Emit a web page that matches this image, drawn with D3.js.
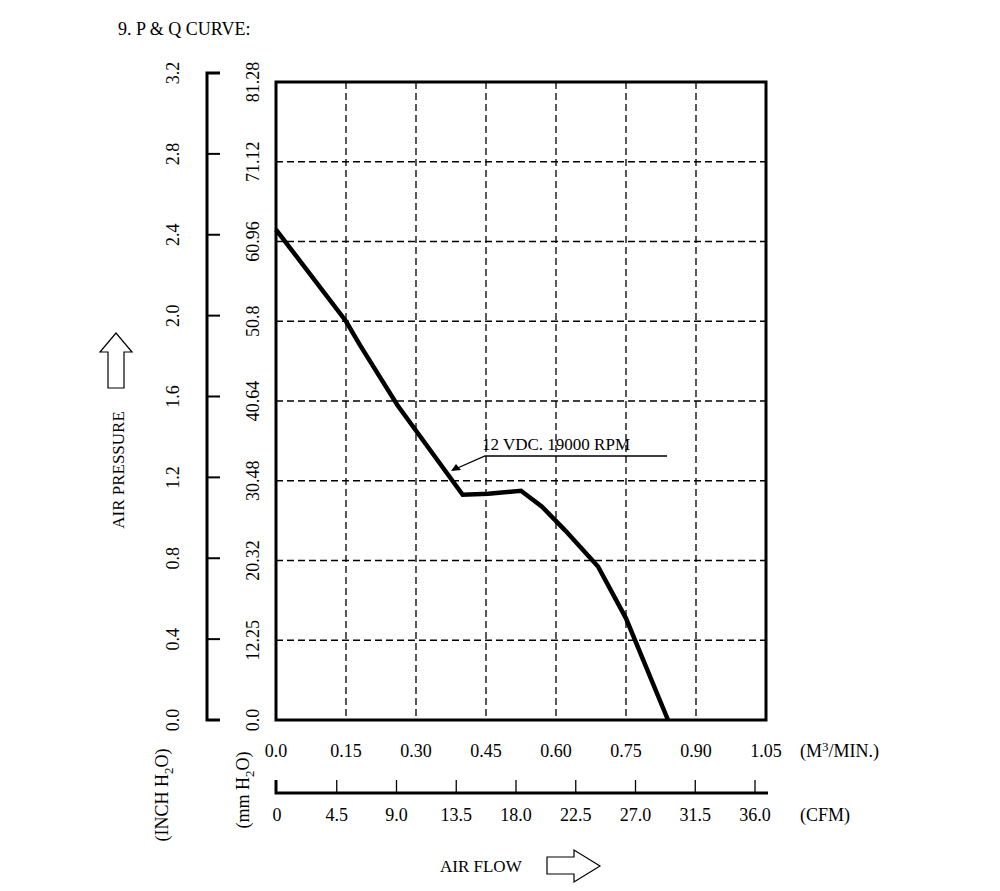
<!DOCTYPE html>
<html><head><meta charset="utf-8">
<script src="https://cdn.jsdelivr.net/npm/d3@7"></script>
<style>body{margin:0;background:#fff}text{font-family:"Liberation Serif",serif;fill:#000}</style>
</head><body>
<script>
// P & Q curve data (m3/min vs inch H2O)
var flow = [0, 0.15, 0.18, 0.26, 0.40, 0.455, 0.525, 0.57, 0.62, 0.69, 0.75, 0.84];
var pressure = [2.46, 2.0, 1.88, 1.58, 1.13, 1.135, 1.15, 1.07, 0.95, 0.77, 0.51, 0.0];
var m3Ticks = [0, 0.15, 0.30, 0.45, 0.60, 0.75, 0.90, 1.05];
var inchTicks = [0, 0.4, 0.8, 1.2, 1.6, 2.0, 2.4, 2.8, 3.2];
var mmLabels = ["0.0", "12.25", "20.32", "30.48", "40.64", "50.8", "60.96", "71.12", "81.28"];
var cfmTicks = [0, 4.5, 9.0, 13.5, 18.0, 22.5, 27.0, 31.5, 36.0];
var cfmLabels = ["0", "4.5", "9.0", "13.5", "18.0", "22.5", "27.0", "31.5", "36.0"];

var svg = d3.select("body").append("svg").attr("width", 1000).attr("height", 891);
var x = d3.scaleLinear().domain([0, 1.05]).range([276, 766]);
var y = d3.scaleLinear().domain([0, 3.2]).range([720, 82]);
var yl = d3.scaleLinear().domain([0, 3.2]).range([720, 73]);
var xc = d3.scaleLinear().domain([0, 36]).range([277, 755]);
var fs = 18;

svg.append("text").attr("x", 118).attr("y", 35).attr("font-size", fs).text("9. P & Q CURVE:");

// grid
svg.selectAll(".gx").data(m3Ticks.slice(1, -1)).enter().append("line")
  .attr("x1", x).attr("x2", x).attr("y1", 82).attr("y2", 720)
  .attr("stroke", "#000").attr("stroke-width", 1.3).attr("stroke-dasharray", "7,4");
svg.selectAll(".gy").data(inchTicks.slice(1, -1)).enter().append("line")
  .attr("x1", 276).attr("x2", 766).attr("y1", y).attr("y2", y)
  .attr("stroke", "#000").attr("stroke-width", 1.3).attr("stroke-dasharray", "7,4");
svg.append("rect").attr("x", 276).attr("y", 82).attr("width", 490).attr("height", 638)
  .attr("fill", "none").attr("stroke", "#000").attr("stroke-width", 3);

// curve
svg.append("path").datum(d3.zip(flow, pressure))
  .attr("d", d3.line().x(d => x(d[0])).y(d => y(d[1])))
  .attr("fill", "none").attr("stroke", "#000").attr("stroke-width", 4.5);

// callout
svg.append("path").attr("d", "M453,470 L485,456 L667,456").attr("fill", "none").attr("stroke", "#000").attr("stroke-width", 1.3);
svg.append("path").attr("d", "M451,471 l10,-1 l-5,-6 z").attr("fill", "#000");
svg.append("text").attr("x", 482).attr("y", 450).attr("font-size", 17).text("12 VDC. 19000 RPM");

// left inch axis
svg.append("path").attr("d", "M220,73 H207 V720 H220").attr("fill", "none").attr("stroke", "#000").attr("stroke-width", 3);
svg.selectAll(".lt").data(inchTicks).enter().append("line")
  .attr("x1", 207).attr("x2", 220).attr("y1", yl).attr("y2", yl).attr("stroke", "#000").attr("stroke-width", 2);
svg.selectAll(".ll").data(inchTicks).enter().append("text")
  .attr("transform", d => "translate(179," + yl(d) + ") rotate(-90)")
  .attr("text-anchor", "middle").attr("font-size", fs).text(d => d.toFixed(1));
svg.selectAll(".ml").data(inchTicks).enter().append("text")
  .attr("transform", (d, i) => "translate(259," + y(d) + ") rotate(-90)")
  .attr("text-anchor", "middle").attr("font-size", fs).text((d, i) => mmLabels[i]);

svg.append("text").attr("transform", "translate(168,795) rotate(-90)").attr("text-anchor", "middle")
  .attr("font-size", fs).html('(INCH H<tspan dy="5" font-size="13">2</tspan><tspan dy="-5">O)</tspan>');
svg.append("text").attr("transform", "translate(249,790) rotate(-90)").attr("text-anchor", "middle")
  .attr("font-size", fs).html('(mm H<tspan dy="5" font-size="13">2</tspan><tspan dy="-5">O)</tspan>');
svg.append("text").attr("transform", "translate(124,470) rotate(-90)").attr("text-anchor", "middle")
  .attr("font-size", 17).text("AIR PRESSURE");
svg.append("path").attr("d", "M108,388 V352 H100 L116,333 L132,352 H124 V388 Z")
  .attr("fill", "none").attr("stroke", "#000").attr("stroke-width", 1.2);

// bottom m3 labels
svg.selectAll(".xl").data(m3Ticks).enter().append("text")
  .attr("x", x).attr("y", 757).attr("text-anchor", "middle").attr("font-size", fs)
  .text(d => d.toFixed(d === 0 ? 1 : 2));
svg.append("text").attr("x", 800).attr("y", 757).attr("font-size", fs)
  .html('(M<tspan dy="-6" font-size="13">3</tspan><tspan dy="6">/MIN.)</tspan>');

// CFM axis
svg.append("path").attr("d", "M276,780 V793 H768").attr("fill", "none").attr("stroke", "#000").attr("stroke-width", 3);
svg.selectAll(".ct").data(cfmTicks.slice(1)).enter().append("line")
  .attr("x1", xc).attr("x2", xc).attr("y1", 780).attr("y2", 793).attr("stroke", "#000").attr("stroke-width", 1.3);
svg.selectAll(".cl").data(cfmTicks).enter().append("text")
  .attr("x", xc).attr("y", 821).attr("text-anchor", "middle").attr("font-size", fs).text((d, i) => cfmLabels[i]);
svg.append("text").attr("x", 800).attr("y", 821).attr("font-size", fs).text("(CFM)");

svg.append("text").attr("x", 440).attr("y", 872).attr("font-size", 17).text("AIR FLOW");
svg.append("path").attr("d", "M547,857 H574 V850 L600,866 L574,882 V874 H547 Z")
  .attr("fill", "none").attr("stroke", "#000").attr("stroke-width", 1.2);
</script>
</body></html>
